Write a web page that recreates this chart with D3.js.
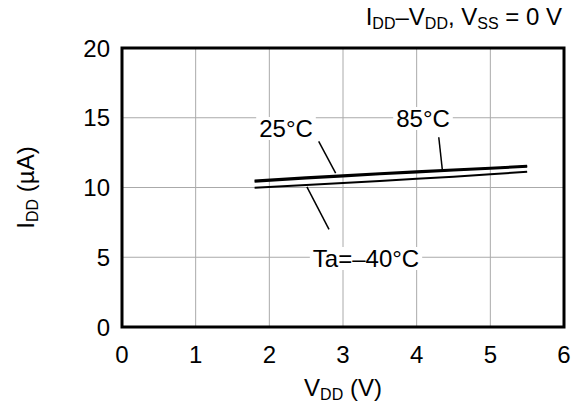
<!DOCTYPE html>
<html>
<head>
<meta charset="utf-8">
<script src="https://cdn.jsdelivr.net/npm/d3@7"></script>
<style>
  body { margin: 0; background: #fff; }
  svg { display: block; font-family: 'Liberation Sans', Arial, sans-serif; }
</style>
</head>
<body>
<svg id="chart" width="577" height="405"></svg>
<script>
// ── Data ───────────────────────────────────────────────
const vdd = [1.8, 2.5, 3, 3.5, 4, 4.5, 5, 5.5];
const idd85 = [10.5, 10.72, 10.88, 11.02, 11.15, 11.28, 11.4, 11.55];
const idd25 = [10.42, 10.65, 10.8, 10.95, 11.08, 11.22, 11.35, 11.5];
const iddM40 = [9.98, 10.18, 10.32, 10.47, 10.62, 10.77, 10.95, 11.13];
const xTicks = [0, 1, 2, 3, 4, 5, 6];
const yTicks = [0, 5, 10, 15, 20];

// ── Layout ─────────────────────────────────────────────
const svg = d3.select('#chart');
const m = { left: 122, right: 564, top: 48, bottom: 327 };
const x = d3.scaleLinear().domain([0, 6]).range([m.left, m.right]);
const y = d3.scaleLinear().domain([0, 20]).range([m.bottom, m.top]);
const fs = 24;

// grid
const grid = svg.append('g').attr('stroke', '#aaa').attr('stroke-width', 1);
xTicks.slice(1, -1).forEach(t => {
  grid.append('line').attr('x1', x(t)).attr('x2', x(t)).attr('y1', m.top).attr('y2', m.bottom);
});
yTicks.slice(1, -1).forEach(t => {
  grid.append('line').attr('x1', m.left).attr('x2', m.right).attr('y1', y(t)).attr('y2', y(t));
});

// tick labels
svg.append('g').selectAll('text').data(xTicks).join('text')
  .attr('x', d => x(d)).attr('y', 363)
  .attr('text-anchor', 'middle').attr('font-size', fs)
  .text(d => d);
svg.append('g').selectAll('text').data(yTicks).join('text')
  .attr('x', 110).attr('y', d => y(d) + 8.5)
  .attr('text-anchor', 'end').attr('font-size', fs)
  .text(d => d);

// curves
const line = d3.line().x(d => x(d[0])).y(d => y(d[1]));
[[idd85, 2.2], [idd25, 2.2], [iddM40, 2]].forEach(([vals, w]) => {
  svg.append('path')
    .datum(vdd.map((v, i) => [v, vals[i]]))
    .attr('d', line)
    .attr('fill', 'none').attr('stroke', '#000').attr('stroke-width', w);
});

// leaders
const leaders = [
  [[2.67, 13.3], [2.9, 11.03]],
  [[4.3, 13.6], [4.35, 11.2]],
  [[2.51, 10.05], [2.81, 7.0]],
];
leaders.forEach(p => {
  svg.append('line')
    .attr('x1', x(p[0][0])).attr('y1', y(p[0][1]))
    .attr('x2', x(p[1][0])).attr('y2', y(p[1][1]))
    .attr('stroke', '#000').attr('stroke-width', 1.5);
});

// curve labels with white backing
function label(txt, cx, by) {
  const t = svg.append('text').attr('x', cx).attr('y', by)
    .attr('text-anchor', 'middle').attr('font-size', fs).text(txt);
  const b = t.node().getBBox();
  svg.insert('rect', () => t.node())
    .attr('x', b.x - 3).attr('y', b.y + 2).attr('width', b.width + 6).attr('height', b.height - 4)
    .attr('fill', '#fff');
}
label('25°C', 286, 137);
label('85°C', 423, 127);
label('Ta=–40°C', 366, 267);

// frame
svg.append('rect')
  .attr('x', m.left).attr('y', m.top)
  .attr('width', m.right - m.left).attr('height', m.bottom - m.top)
  .attr('fill', 'none').attr('stroke', '#000').attr('stroke-width', 3);

// axis titles
const xt = svg.append('text').attr('x', 343).attr('y', 396)
  .attr('text-anchor', 'middle').attr('font-size', fs);
xt.append('tspan').text('V');
xt.append('tspan').attr('font-size', 16).attr('dy', 4).text('DD');
xt.append('tspan').attr('dy', -4).text(' (V)');

const yt = svg.append('text')
  .attr('transform', `translate(34,${(m.top + m.bottom) / 2}) rotate(-90)`)
  .attr('text-anchor', 'middle').attr('font-size', fs);
yt.append('tspan').text('I');
yt.append('tspan').attr('font-size', 16).attr('dy', 4).text('DD');
yt.append('tspan').attr('dy', -4).text(' (µA)');

const tt = svg.append('text').attr('x', 562).attr('y', 25)
  .attr('text-anchor', 'end').attr('font-size', fs);
tt.append('tspan').text('I');
tt.append('tspan').attr('font-size', 16).attr('dy', 4).text('DD');
tt.append('tspan').attr('dy', -4).text('–V');
tt.append('tspan').attr('font-size', 16).attr('dy', 4).text('DD');
tt.append('tspan').attr('dy', -4).text(', V');
tt.append('tspan').attr('font-size', 16).attr('dy', 4).text('SS');
tt.append('tspan').attr('dy', -4).text(' = 0 V');
</script>
</body>
</html>
